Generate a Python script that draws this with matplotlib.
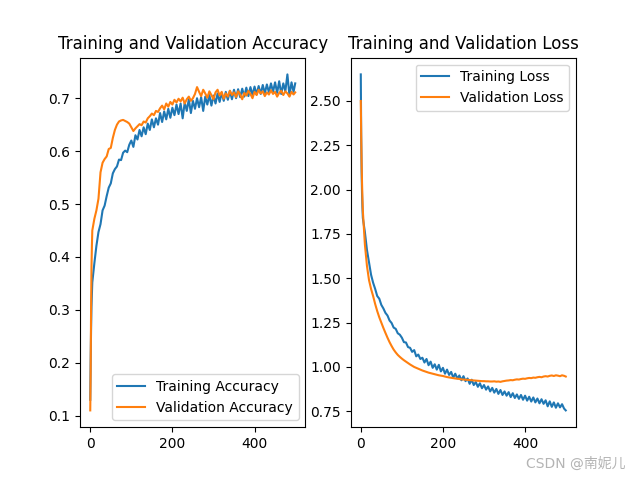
import matplotlib
matplotlib.use("Agg")
import matplotlib.pyplot as plt

# epochs sampled from the curves (dense at the start, then every 5 epochs)
epochs = [0, 1, 2, 3, 4] + list(range(5, 500, 5)) + [499]

train_acc = [
    0.130, 0.205, 0.262, 0.305, 0.330,
    0.352, 0.388, 0.421, 0.447, 0.462, 0.488, 0.497, 0.515, 0.531, 0.539,
    0.558, 0.566, 0.571, 0.584, 0.583, 0.597, 0.601, 0.598, 0.612,
    0.620, 0.608, 0.630, 0.622, 0.640, 0.628, 0.645, 0.632, 0.652, 0.640,
    0.660, 0.645, 0.662, 0.650, 0.672, 0.655, 0.675, 0.660, 0.680, 0.663,
    0.682, 0.668, 0.688, 0.670, 0.690, 0.662, 0.692, 0.676, 0.698, 0.672,
    0.695, 0.680, 0.700, 0.683, 0.702, 0.676, 0.703, 0.688, 0.706, 0.686,
    0.705, 0.690, 0.709, 0.693, 0.710, 0.695, 0.712, 0.697, 0.714, 0.698,
    0.716, 0.700, 0.717, 0.702, 0.718, 0.703, 0.720, 0.704, 0.721, 0.706,
    0.722, 0.707, 0.723, 0.708, 0.725, 0.709, 0.726, 0.711, 0.728, 0.712,
    0.730, 0.710, 0.732, 0.708, 0.728, 0.713, 0.745, 0.705, 0.730, 0.712,
    0.728,
]

val_acc = [
    0.110, 0.180, 0.300, 0.380, 0.420,
    0.450, 0.472, 0.488, 0.510, 0.560, 0.578, 0.585, 0.590, 0.604, 0.606,
    0.625, 0.640, 0.650, 0.656, 0.658, 0.659, 0.657, 0.655, 0.652, 0.645,
    0.638, 0.643, 0.647, 0.651, 0.649, 0.656, 0.654, 0.662, 0.666, 0.671,
    0.668, 0.676, 0.674, 0.681, 0.686, 0.679, 0.690, 0.684, 0.693, 0.688,
    0.697, 0.692, 0.699, 0.694, 0.701, 0.690, 0.698, 0.703, 0.695, 0.700,
    0.708, 0.721, 0.712, 0.704, 0.716, 0.709, 0.701, 0.713, 0.706, 0.698,
    0.711, 0.716, 0.705, 0.712, 0.699, 0.709, 0.703, 0.714, 0.706, 0.711,
    0.702, 0.713, 0.707, 0.698, 0.710, 0.705, 0.714, 0.708, 0.700, 0.712,
    0.706, 0.716, 0.709, 0.713, 0.704, 0.711, 0.707, 0.715, 0.708, 0.712,
    0.703, 0.710, 0.714, 0.706, 0.713, 0.709, 0.703, 0.712, 0.707,
    0.711,
]

train_loss = [
    2.650, 2.300, 2.100, 1.980, 1.900,
    1.840, 1.760, 1.660, 1.590, 1.520, 1.475, 1.440, 1.400, 1.385, 1.350,
    1.330, 1.305, 1.290, 1.262, 1.248, 1.222, 1.215, 1.190, 1.182,
    1.165, 1.140, 1.138, 1.112, 1.108, 1.085, 1.095, 1.060, 1.070, 1.045,
    1.052, 1.025, 1.045, 1.010, 1.030, 0.995, 1.015, 0.985, 1.012, 0.975,
    0.995, 0.962, 0.985, 0.955, 0.972, 0.940, 0.962, 0.935, 0.952, 0.925,
    0.948, 0.920, 0.935, 0.905, 0.928, 0.898, 0.915, 0.888, 0.908, 0.880,
    0.898, 0.872, 0.890, 0.862, 0.882, 0.855, 0.876, 0.848, 0.870, 0.842,
    0.862, 0.838, 0.858, 0.830, 0.852, 0.825, 0.845, 0.820, 0.842, 0.815,
    0.838, 0.810, 0.832, 0.805, 0.828, 0.800, 0.822, 0.795, 0.818, 0.792,
    0.812, 0.778, 0.806, 0.775, 0.800, 0.770, 0.795, 0.772, 0.790, 0.765,
    0.755,
]

val_loss = [
    2.500, 2.300, 2.150, 2.040, 1.950,
    1.880, 1.690, 1.570, 1.490, 1.440, 1.400, 1.355, 1.315, 1.280, 1.250,
    1.220, 1.192, 1.165, 1.140, 1.118, 1.098, 1.082, 1.068, 1.057, 1.047,
    1.038, 1.030, 1.022, 1.014, 1.007, 1.000, 0.995, 0.990, 0.985, 0.980,
    0.976, 0.972, 0.968, 0.965, 0.962, 0.959, 0.956, 0.953, 0.951, 0.949,
    0.946, 0.943, 0.941, 0.939, 0.937, 0.935, 0.934, 0.932, 0.930, 0.929,
    0.928, 0.927, 0.926, 0.925, 0.924, 0.923, 0.922, 0.921, 0.920, 0.920,
    0.919, 0.919, 0.918, 0.918, 0.919, 0.917, 0.918, 0.916, 0.919, 0.921,
    0.923, 0.924, 0.926, 0.925, 0.928, 0.930, 0.929, 0.932, 0.934, 0.933,
    0.936, 0.938, 0.937, 0.940, 0.939, 0.942, 0.944, 0.942, 0.946, 0.948,
    0.946, 0.950, 0.952, 0.949, 0.953, 0.951, 0.948, 0.953, 0.950,
    0.946,
]

fig = plt.figure(figsize=(6.4, 4.8), dpi=100)

plt.subplot(1, 2, 1)
plt.plot(epochs, train_acc, label="Training Accuracy")
plt.plot(epochs, val_acc, label="Validation Accuracy")
plt.legend(loc="lower right")
plt.title("Training and Validation Accuracy")

plt.subplot(1, 2, 2)
plt.plot(epochs, train_loss, label="Training Loss")
plt.plot(epochs, val_loss, label="Validation Loss")
plt.legend(loc="upper right")
plt.title("Training and Validation Loss")

# watermark
fig.text(0.977, 0.02, "CSDN @南妮儿", ha="right", va="bottom", fontsize=10,
         color="#b4b4b4", family=["DejaVu Sans", "Noto Sans CJK SC"])

fig.savefig("out.png", dpi=100)
